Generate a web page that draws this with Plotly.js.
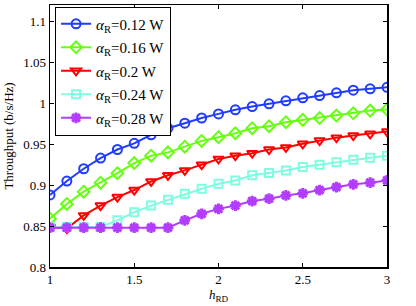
<!DOCTYPE html>
<html>
<head>
<meta charset="utf-8">
<script src="https://cdn.plot.ly/plotly-3.0.1.min.js"></script>
<style>html,body{margin:0;padding:0;background:#fff;}#chart{width:416px;height:306px;}</style>
</head>
<body>
<div id="chart"></div>
<script>
const hRD = [1.0,1.1,1.2,1.3,1.4,1.5,1.6,1.7,1.8,1.9,2.0,2.1,2.2,2.3,2.4,2.5,2.6,2.7,2.8,2.9,3.0];
const seriesNames = ['<i>α</i><sub>R</sub>=0.12 W','<i>α</i><sub>R</sub>=0.16 W','<i>α</i><sub>R</sub>=0.2 W','<i>α</i><sub>R</sub>=0.24 W','<i>α</i><sub>R</sub>=0.28 W'];
const thr012 = [0.888,0.905,0.920,0.933,0.9435,0.951,0.9615,0.9695,0.9756,0.982,0.987,0.992,0.996,0.9993,1.003,1.0066,1.0094,1.0127,1.016,1.0176,1.0195];
const thr016 = [0.859,0.877,0.892,0.903,0.9146,0.927,0.936,0.940,0.947,0.954,0.9585,0.9634,0.9695,0.972,0.9768,0.9797,0.982,0.985,0.9878,0.991,0.9923];
const thr020 = [0.849,0.847,0.863,0.875,0.8854,0.894,0.9045,0.912,0.918,0.925,0.932,0.936,0.939,0.9435,0.946,0.9505,0.9545,0.958,0.9606,0.9627,0.9655];
const thr024 = [0.849,0.849,0.849,0.849,0.857,0.867,0.875,0.882,0.8895,0.8956,0.9017,0.9057,0.912,0.9147,0.918,0.922,0.925,0.928,0.931,0.9334,0.936];
const thr028 = [0.848,0.848,0.848,0.848,0.848,0.848,0.848,0.848,0.857,0.865,0.871,0.875,0.8805,0.8834,0.8874,0.890,0.894,0.8976,0.901,0.903,0.9057];
const xTicks = [1,1.5,2,2.5,3];
const xTickText = ['1','1.5','2','2.5','3'];
const yTicks = [0.8,0.85,0.9,0.95,1,1.05,1.1];
const yTickText = ['0.8','0.85','0.9','0.95','1','1.05','1.1'];

const colors = ['#1f3cff','#66ff11','#ff0000','#7ffde0','#b23cff'];
const symbols = ['circle-open','diamond-open','triangle-down-open','square-open','asterisk-open'];
const sizes = [9,9,9,8,9];
const data = [thr012,thr016,thr020,thr024,thr028];

const traces = data.map((y,i)=>({
  x: hRD, y: y, name: seriesNames[i], type:'scatter', mode:'lines+markers', legendgroup:'g'+i,
  line:{color:colors[i], width:2},
  marker:{symbol:symbols[i], size:sizes[i], color:colors[i], line:{color:colors[i], width: i===4?3:2}}
}));

const fam = '"Liberation Serif", "Times New Roman", serif';
const layout = {
  width:416, height:306,
  margin:{l:50, r:29, t:5, b:39, pad:0},
  paper_bgcolor:'#fff', plot_bgcolor:'#fff',
  font: {family:fam, size:13, color:'#000'},
  showlegend:true,
  legend:{x:0.015, y:0.994, xanchor:'left', yanchor:'top', bordercolor:'#000', borderwidth:1, bgcolor:'#fff',
          font:{family:fam, size:15, color:'#000'}, tracegroupgap:1, itemwidth:30},
  xaxis:{range:[1,3], tickvals:xTicks, ticktext:xTickText, ticks:'inside', ticklen:4, tickcolor:'#000',
         showline:true, linecolor:'#000', linewidth:1.5, mirror:'ticks', showgrid:false, zeroline:false,
         tickfont:{family:fam, size:13, color:'#000'},
         title:{text:'<i>h</i><sub>RD</sub>', font:{family:fam, size:13, color:'#000'}, standoff:3}},
  yaxis:{range:[0.8,1.12], tickvals:yTicks, ticktext:yTickText, ticks:'inside', ticklen:4, tickcolor:'#000',
         showline:true, linecolor:'#000', linewidth:1.5, mirror:'ticks', showgrid:false, zeroline:false,
         tickfont:{family:fam, size:13, color:'#000'},
         title:{text:'Throughput (b/s/Hz)', font:{family:fam, size:13, color:'#000'}, standoff:6}}
};
Plotly.newPlot('chart', traces, layout, {displayModeBar:false, staticPlot:true});
</script>
</body>
</html>
